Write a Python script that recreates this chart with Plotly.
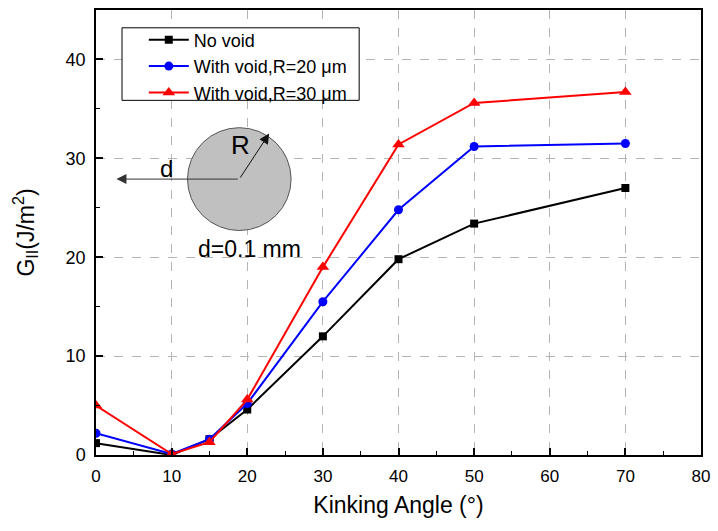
import plotly.graph_objects as go

# Kinking angle (degrees) and energy release rate G_II (J/m^2)
angles = [0, 10, 15, 20, 30, 40, 50, 70]
g_no_void = [1.2, 0.0, 1.6, 4.6, 12.0, 19.8, 23.4, 27.0]
g_void_r20 = [2.2, 0.1, 1.6, 5.2, 15.5, 24.8, 31.2, 31.5]
g_void_r30 = [5.0, 0.1, 1.3, 5.6, 19.0, 31.4, 35.6, 36.7]

series_names = ["No void", "With void,R=20 μm", "With void,R=30 μm"]
x_ticks = [0, 10, 20, 30, 40, 50, 60, 70, 80]
y_ticks = [0, 10, 20, 30, 40]

FONT = "Liberation Sans, Arial, sans-serif"

fig = go.Figure()
styles = [
    (g_no_void, "black", "square", 8),
    (g_void_r20, "#0000ff", "circle", 9),
    (g_void_r30, "#ff0000", "triangle-up", 11),
]
for name, (vals, color, sym, size) in zip(series_names, styles):
    fig.add_trace(go.Scatter(
        x=angles, y=vals, name=name, mode="lines+markers",
        line=dict(color=color, width=2),
        marker=dict(symbol=sym, size=size, color=color),
    ))

# Schematic of the void: circle of radius R at distance d from the crack tip
fig.add_shape(type="circle", xref="x", yref="y",
              x0=12.1, x1=25.8, y0=22.7, y1=33.1,
              fillcolor="#c0c0c0", line=dict(color="#555555", width=1))
fig.add_annotation(x=2.7, y=27.9, ax=18.95, ay=27.9, xref="x", yref="y",
                   axref="x", ayref="y", text="", showarrow=True,
                   arrowhead=2, arrowsize=2, arrowwidth=1, arrowcolor="#333333")
fig.add_annotation(x=22.9, y=32.5, ax=18.95, ay=27.9, xref="x", yref="y",
                   axref="x", ayref="y", text="", showarrow=True,
                   arrowhead=2, arrowsize=2, arrowwidth=1, arrowcolor="#111111")
fig.add_annotation(x=9.3, y=29.0, xref="x", yref="y", text="d", showarrow=False,
                   font=dict(family=FONT, size=24, color="black"))
fig.add_annotation(x=19.1, y=31.3, xref="x", yref="y", text="R", showarrow=False,
                   font=dict(family=FONT, size=26, color="black"))
fig.add_annotation(x=20.3, y=20.8, xref="x", yref="y", text="d=0.1 mm", showarrow=False,
                   font=dict(family=FONT, size=23, color="black"))

# Legend frame, drawn as a box so the entries can sit with a wider inner margin
fig.add_shape(type="rect", xref="paper", yref="paper", layer="above",
              x0=0.043, x1=0.435, y0=0.797, y1=0.960,
              fillcolor="white", line=dict(color="black", width=1))

axis_common = dict(
    showline=True, linecolor="black", linewidth=1.5, mirror=True,
    ticks="inside", ticklen=7, tickwidth=1.5, tickcolor="black",
    showgrid=True, gridcolor="#b4b4b4", griddash="dash", gridwidth=1,
    zeroline=False,
    minor=dict(ticks="inside", ticklen=4, tickwidth=1, tickcolor="black", showgrid=False),
)

fig.update_xaxes(range=[0, 80], tickvals=x_ticks, minor_dtick=5,
                 tickfont=dict(family=FONT, size=17, color="black"),
                 ticklabelstandoff=5,
                 title=dict(text="Kinking Angle (°)", font=dict(family=FONT, size=23, color="black"),
                            standoff=12),
                 **axis_common)
fig.update_yaxes(range=[0, 45], tickvals=y_ticks, minor_dtick=5,
                 tickfont=dict(family=FONT, size=18, color="black"),
                 ticklabelstandoff=5,
                 title=dict(text="G<sub>II</sub>(J/m<sup>2</sup>)",
                            font=dict(family=FONT, size=23, color="black"), standoff=25),
                 **axis_common)

fig.update_layout(
    width=718, height=531,
    margin=dict(l=96, r=13, t=8, b=76),
    plot_bgcolor="white", paper_bgcolor="white",
    legend=dict(x=0.079, y=0.873, xanchor="left", yanchor="middle",
                bgcolor="rgba(0,0,0,0)", borderwidth=0,
                font=dict(family=FONT, size=18, color="black"),
                tracegroupgap=0, itemwidth=40),
    showlegend=True,
)

fig.write_html("out.html")
